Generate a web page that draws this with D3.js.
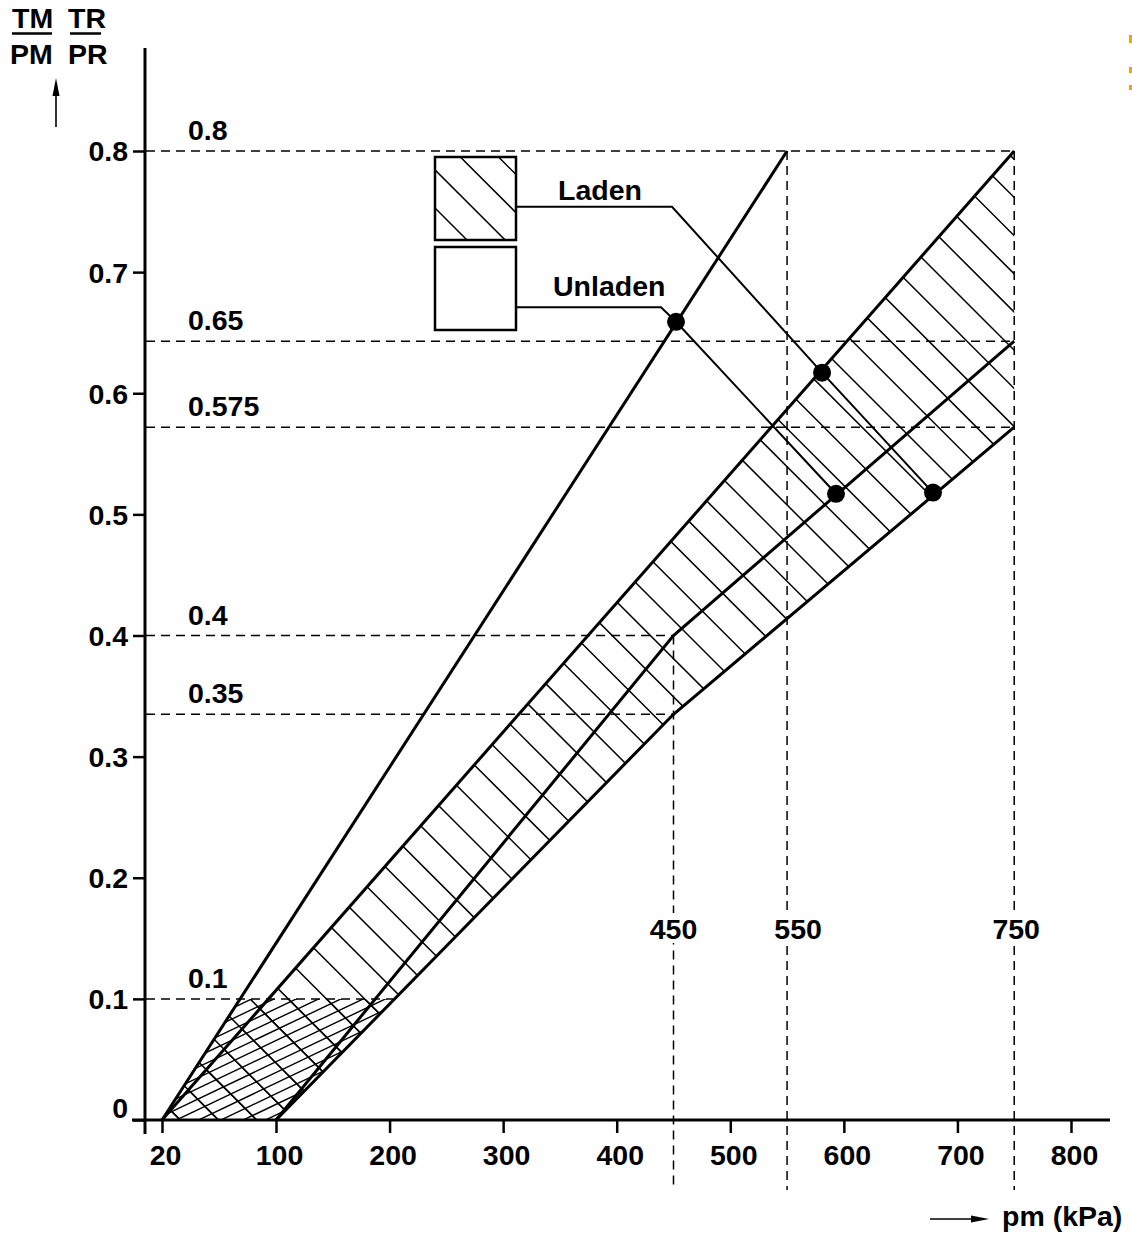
<!DOCTYPE html>
<html>
<head>
<meta charset="utf-8">
<script src="https://cdn.jsdelivr.net/npm/d3@7"></script>
<style>
  html, body { margin: 0; padding: 0; background: #fff; }
  svg { display: block; }
  text { font-family: "Liberation Sans", Arial, Helvetica, sans-serif; font-weight: bold; fill: #000; }
</style>
</head>
<body>
<svg id="chart" width="1132" height="1236"></svg>
<script>
// ---------------- DATA ----------------
const xTicks = [20, 100, 200, 300, 400, 500, 600, 700, 800];
const xTickLabels = ["20", "100", "200", "300", "400", "500", "600", "700", "800"];
const yTicks = [0, 0.1, 0.2, 0.3, 0.4, 0.5, 0.6, 0.7, 0.8];
const yTickLabels = ["0", "0.1", "0.2", "0.3", "0.4", "0.5", "0.6", "0.7", "0.8"];

// boundary lines [pm kPa, T/P]
const unladenUpper = [[20, 0], [550, 0.8]];
const unladenLower = [[100, 0], [450, 0.4], [750, 0.643]];
const ladenUpper   = [[20, 0], [750, 0.8]];
const ladenLower   = [[100, 0], [450, 0.335], [750, 0.572]];

// reference (dashed) levels
const refLevels      = [0.8, 0.643, 0.572, 0.4, 0.335, 0.1];
const refLevelLabels = ["0.8", "0.65", "0.575", "0.4", "0.35", "0.1"];
const refLevelEnds   = [750, 750, 750, 450, 450, 203];

const refPressures      = [450, 550, 750];
const refPressureLabels = ["450", "550", "750"];
const refPressureTops   = [0.4, 0.8, 0.8];

// cross-hatched zone below 0.1
const lowZoneLevel = 0.1;

// marked points and legend leaders
const ladenPoints   = [[580.8, 0.617], [678.5, 0.518]];
const unladenPoints = [[452.2, 0.659], [593.1, 0.517]];
const ladenLeader   = [[312, 0.754], [448.7, 0.754], [580.8, 0.617], [678.5, 0.518]];
const unladenLeader = [[312, 0.671], [439, 0.671], [452.2, 0.659], [593.1, 0.517]];
const legendLabels  = ["Laden", "Unladen"];

// ---------------- SCALES ----------------
const x = d3.scaleLinear().domain([20, 100, 800]).range([162, 276, 1071]);
const y = d3.scaleLinear().domain([0, 0.8]).range([1120, 151]);

const FS = 28.5;
const svg = d3.select("#chart");
const defs = svg.append("defs");
const line = d3.line().x(d => x(d[0])).y(d => y(d[1]));

// explicit hatch drawing: lines with given direction and perpendicular spacing, clipped
let clipCount = 0;
function hatchInto(pathD, bbox, dirDeg, spacing, phase, width) {
  const id = "clip" + (clipCount++);
  defs.append("clipPath").attr("id", id).append("path").attr("d", pathD);
  const g = svg.append("g").attr("clip-path", `url(#${id})`);
  const a = dirDeg * Math.PI / 180;
  const ux = Math.cos(a), uy = Math.sin(a);
  const nx = -uy, ny = ux;
  const corners = [[bbox[0], bbox[1]], [bbox[2], bbox[1]], [bbox[0], bbox[3]], [bbox[2], bbox[3]]];
  const ps = corners.map(c => c[0] * nx + c[1] * ny);
  const pmin = Math.min(...ps), pmax = Math.max(...ps);
  const L = Math.hypot(bbox[2] - bbox[0], bbox[3] - bbox[1]) + 20;
  const cxm = (bbox[0] + bbox[2]) / 2, cym = (bbox[1] + bbox[3]) / 2;
  const t0 = cxm * ux + cym * uy;
  const kStart = Math.floor((pmin - phase) / spacing), kEnd = Math.ceil((pmax - phase) / spacing);
  for (let k = kStart; k <= kEnd; k++) {
    const p = phase + k * spacing;
    const bx = p * nx + t0 * ux, by = p * ny + t0 * uy;
    g.append("line")
      .attr("x1", bx - ux * L).attr("y1", by - uy * L)
      .attr("x2", bx + ux * L).attr("y2", by + uy * L)
      .attr("stroke", "#000").attr("stroke-width", width);
  }
}

// laden band polygon, hatched "\"
const ladenPoly = ladenUpper.concat(ladenLower.slice().reverse());
const ladenD = line(ladenPoly) + "Z";
hatchInto(ladenD, [150, 140, 1030, 1130], 45, 27, 16.5, 1.5);

// low zone polygon in screen space (follows the drawn straight segments)
function pxAtLevel(seg, lev) {
  for (let i = 0; i < seg.length - 1; i++) {
    const a = seg[i], b = seg[i + 1];
    if (lev >= a[1] && lev <= b[1]) {
      const t = (lev - a[1]) / (b[1] - a[1]);
      return x(a[0]) + t * (x(b[0]) - x(a[0]));
    }
  }
  return x(seg[seg.length - 1][0]);
}
const lowPts = [
  [x(unladenUpper[0][0]), y(0)],
  [pxAtLevel(unladenUpper, lowZoneLevel), y(lowZoneLevel)],
  [pxAtLevel(ladenLower, lowZoneLevel), y(lowZoneLevel)],
  [x(ladenLower[0][0]), y(0)]
];
const lowD = "M" + lowPts.map(p => p.join(",")).join("L") + "Z";
hatchInto(lowD, [150, 990, 410, 1125], -25.5, 9.6, 2, 1.4);
hatchInto(lowD, [150, 990, 410, 1125], 45, 27, 16.5, 1.5);

// dashed horizontal reference lines
const dash = "9,6";
refLevels.forEach((v, i) => {
  svg.append("line")
    .attr("x1", 146).attr("x2", x(refLevelEnds[i]))
    .attr("y1", y(v)).attr("y2", y(v))
    .attr("stroke", "#000").attr("stroke-width", 1.5).attr("stroke-dasharray", dash);
  svg.append("text").attr("x", 188).attr("y", y(v) - 11)
    .attr("font-size", FS).text(refLevelLabels[i]);
});

// dashed vertical reference lines
const labelShift = [0, 11, 2];
refPressures.forEach((v, i) => {
  svg.append("line")
    .attr("x1", x(v)).attr("x2", x(v))
    .attr("y1", y(refPressureTops[i])).attr("y2", y(0) + 70)
    .attr("stroke", "#000").attr("stroke-width", 1.5).attr("stroke-dasharray", dash);
  const cx = x(v) + labelShift[i];
  svg.append("rect").attr("x", cx - 27).attr("y", 913).attr("width", 54).attr("height", 30).attr("fill", "#fff");
  svg.append("text").attr("x", cx).attr("y", 939)
    .attr("text-anchor", "middle").attr("font-size", FS).text(refPressureLabels[i]);
});

// boundary lines
[unladenUpper, ladenUpper, unladenLower, ladenLower].forEach(seg => {
  svg.append("path").attr("d", line(seg)).attr("fill", "none")
    .attr("stroke", "#000").attr("stroke-width", 3).attr("stroke-linejoin", "miter");
});

// axes
const xAxis = d3.axisBottom(x).tickValues(xTicks).tickFormat((d, i) => xTickLabels[i])
  .tickSize(13).tickSizeOuter(0);
const gx = svg.append("g").attr("transform", `translate(0,${y(0)})`).call(xAxis);
gx.select(".domain").remove();
gx.selectAll(".tick line").attr("stroke", "#000").attr("stroke-width", 2.5);
gx.selectAll(".tick text").attr("y", 45).attr("dy", 0).attr("dx", 3)
  .style("font-size", FS + "px").style("font-family", "Liberation Sans, Arial, sans-serif")
  .style("font-weight", "bold").attr("fill", "#000");

const yAxis = d3.axisLeft(y).tickValues(yTicks).tickFormat((d, i) => yTickLabels[i])
  .tickSize(12).tickSizeOuter(0);
const gy = svg.append("g").attr("transform", "translate(145,0)").call(yAxis);
gy.select(".domain").remove();
gy.selectAll(".tick line").attr("stroke", "#000").attr("stroke-width", 2.5);
gy.selectAll(".tick text").attr("x", -17)
  .style("font-size", FS + "px").style("font-family", "Liberation Sans, Arial, sans-serif")
  .style("font-weight", "bold").attr("fill", "#000")
  .attr("dy", d => d === 0 ? "-0.1em" : "0.35em");

svg.append("line").attr("x1", 145).attr("x2", 145).attr("y1", 48).attr("y2", 1134)
  .attr("stroke", "#000").attr("stroke-width", 3);
svg.append("line").attr("x1", 132).attr("x2", 1110).attr("y1", y(0)).attr("y2", y(0))
  .attr("stroke", "#000").attr("stroke-width", 3);

// legend boxes
svg.append("rect").attr("x", 435).attr("y", 157).attr("width", 81).attr("height", 83).attr("fill", "#fff");
hatchInto("M435,157H516V240H435Z", [430, 150, 520, 245], 45, 27, 1.5, 1.5);
svg.append("rect").attr("x", 435).attr("y", 157).attr("width", 81).attr("height", 83)
  .attr("fill", "none").attr("stroke", "#000").attr("stroke-width", 2.5);
svg.append("rect").attr("x", 435).attr("y", 247).attr("width", 81).attr("height", 83)
  .attr("fill", "#fff").attr("stroke", "#000").attr("stroke-width", 2.5);

// leaders
[ladenLeader, unladenLeader].forEach(seg => {
  svg.append("path").attr("d", line(seg)).attr("fill", "none")
    .attr("stroke", "#000").attr("stroke-width", 2);
});
svg.append("text").attr("x", 558).attr("y", 200).attr("font-size", FS).text(legendLabels[0]);
svg.append("text").attr("x", 553).attr("y", 296).attr("font-size", FS).text(legendLabels[1]);

// points
ladenPoints.concat(unladenPoints).forEach(p => {
  svg.append("circle").attr("cx", x(p[0])).attr("cy", y(p[1])).attr("r", 9).attr("fill", "#000");
});

// y-axis title (fractions)
svg.append("text").attr("x", 12).attr("y", 28).attr("font-size", FS).text("TM");
svg.append("text").attr("x", 10).attr("y", 64).attr("font-size", FS).text("PM");
svg.append("text").attr("x", 68).attr("y", 28).attr("font-size", FS).text("TR");
svg.append("text").attr("x", 68).attr("y", 64).attr("font-size", FS).text("PR");
svg.append("line").attr("x1", 12).attr("x2", 52).attr("y1", 33.5).attr("y2", 33.5).attr("stroke", "#000").attr("stroke-width", 2.5);
svg.append("line").attr("x1", 70).attr("x2", 101).attr("y1", 33.5).attr("y2", 33.5).attr("stroke", "#000").attr("stroke-width", 2.5);
svg.append("line").attr("x1", 56).attr("x2", 56).attr("y1", 92).attr("y2", 127).attr("stroke", "#000").attr("stroke-width", 1.6);
svg.append("path").attr("d", "M56,78 L52.5,96 L59.5,96 Z").attr("fill", "#000");

// x-axis title
svg.append("line").attr("x1", 930).attr("x2", 975).attr("y1", 1219).attr("y2", 1219).attr("stroke", "#000").attr("stroke-width", 1.6);
svg.append("path").attr("d", "M989,1219 L971,1215.5 L971,1222.5 Z").attr("fill", "#000");
svg.append("text").attr("x", 1002).attr("y", 1226).attr("font-size", FS).text("pm (kPa)");

// small orange marks at right edge
[[35, 8], [67, 6], [85, 5]].forEach(m => {
  svg.append("rect").attr("x", 1129).attr("y", m[0]).attr("width", 3).attr("height", m[1]).attr("fill", "#f5a300");
});
</script>
</body>
</html>
